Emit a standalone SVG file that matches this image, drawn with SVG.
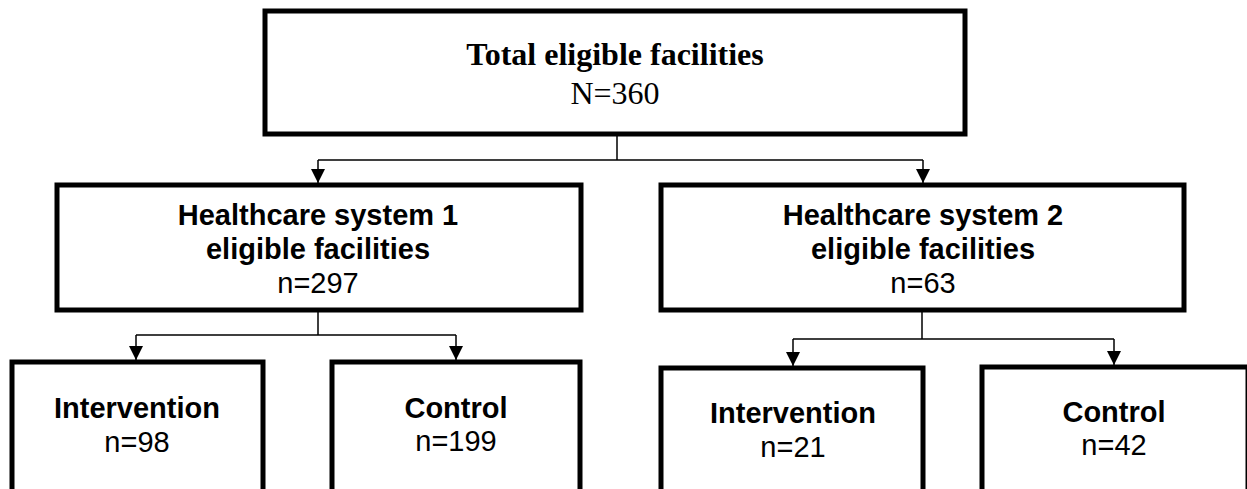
<svg xmlns="http://www.w3.org/2000/svg" width="1247" height="489" viewBox="0 0 1247 489">
<style>
.box{fill:#fff;stroke:#000;stroke-width:5}
.ln{fill:none;stroke:#000;stroke-width:1.5}
.t1{font-family:"Liberation Serif","Times New Roman",serif;font-size:32px;font-weight:bold;text-anchor:middle}
.t1n{font-family:"Liberation Serif","Times New Roman",serif;font-size:32px;text-anchor:middle}
.hb{font-family:"Liberation Sans",Arial,sans-serif;font-size:29px;font-weight:bold;text-anchor:middle}
.hn{font-family:"Liberation Sans",Arial,sans-serif;font-size:29px;text-anchor:middle}
</style>
<defs>
<marker id="ah" viewBox="0 0 14 14" refX="14" refY="7" markerWidth="14" markerHeight="14" markerUnits="userSpaceOnUse" orient="auto">
<path d="M0,0 L14,7 L0,14 z" fill="#000"/>
</marker>
</defs>
<g id="connectors">
<path class="ln" d="M617,134 V160 M318,160 H923"/>
<path class="ln" d="M318,160 V183" marker-end="url(#ah)"/>
<path class="ln" d="M923,160 V183" marker-end="url(#ah)"/>
<path class="ln" d="M318,310 V335 M136,335 H456"/>
<path class="ln" d="M136,335 V360" marker-end="url(#ah)"/>
<path class="ln" d="M456,335 V360" marker-end="url(#ah)"/>
<path class="ln" d="M922,310 V339 M793,339 H1114"/>
<path class="ln" d="M793,339 V366" marker-end="url(#ah)"/>
<path class="ln" d="M1114,339 V365" marker-end="url(#ah)"/>
</g>
<g id="total">
<rect class="box" x="265" y="11" width="700" height="123"/>
<text class="t1" x="615" y="65">Total eligible facilities</text>
<text class="t1n" x="615" y="104">N=360</text>
</g>
<g id="hs1">
<rect class="box" x="57" y="185" width="524" height="125"/>
<text class="hb" x="318" y="225">Healthcare system 1</text>
<text class="hb" x="318" y="259">eligible facilities</text>
<text class="hn" x="318" y="293">n=297</text>
</g>
<g id="hs2">
<rect class="box" x="661" y="185" width="523" height="125"/>
<text class="hb" x="923" y="225">Healthcare system 2</text>
<text class="hb" x="923" y="259">eligible facilities</text>
<text class="hn" x="923" y="293">n=63</text>
</g>
<g id="int1">
<rect class="box" x="12" y="362" width="251" height="150"/>
<text class="hb" x="137" y="418">Intervention</text>
<text class="hn" x="137" y="452">n=98</text>
</g>
<g id="ctl1">
<rect class="box" x="332" y="362" width="248" height="150"/>
<text class="hb" x="456" y="418">Control</text>
<text class="hn" x="456" y="451">n=199</text>
</g>
<g id="int2">
<rect class="box" x="661" y="368" width="262" height="150"/>
<text class="hb" x="793" y="423">Intervention</text>
<text class="hn" x="793" y="457">n=21</text>
</g>
<g id="ctl2">
<rect class="box" x="982" y="367" width="266" height="150"/>
<text class="hb" x="1114" y="422">Control</text>
<text class="hn" x="1114" y="455">n=42</text>
</g>
</svg>
